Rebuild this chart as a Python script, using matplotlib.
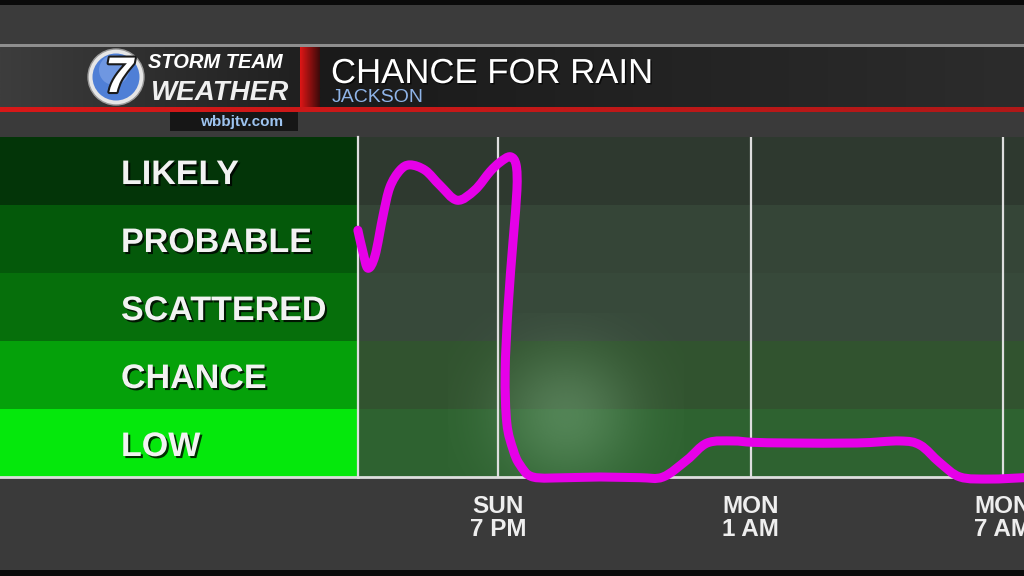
import numpy as np
import matplotlib
matplotlib.use('Agg')
import matplotlib.pyplot as plt
from matplotlib.patches import Rectangle, Circle, PathPatch
from matplotlib.path import Path
from matplotlib.colors import to_rgb
import matplotlib.patheffects as pe

# ---------------- data ----------------
categories = ['LOW', 'CHANCE', 'SCATTERED', 'PROBABLE', 'LIKELY']
# hours relative to Sunday 7 PM, rain-chance level (0 = bottom of LOW, 5 = top of LIKELY)
hours = [-3.33, -3.21, -3.09, -2.92, -2.73, -2.57, -2.33, -2.09, -1.73, -1.38,
         -0.97, -0.55, -0.19, 0.05, 0.29, 0.43, 0.45, 0.36, 0.24, 0.17,
         0.21, 0.36, 0.52, 0.83, 1.64, 2.42, 3.37, 3.92, 4.49, 4.97,
         5.58, 6.06, 6.94, 8.53, 9.55, 10.03, 10.50, 10.98, 11.69, 12.50]
levels = [3.63, 3.31, 3.07, 3.26, 3.85, 4.26, 4.51, 4.59, 4.51, 4.29,
          4.07, 4.22, 4.49, 4.63, 4.71, 4.59, 4.22, 3.49, 2.50, 1.53,
          0.79, 0.40, 0.18, 0.00, -0.01, 0.00, -0.01, 0.00, 0.25, 0.50,
          0.53, 0.51, 0.50, 0.50, 0.53, 0.47, 0.21, 0.00, -0.03, -0.01]
tick_hours = [0, 6, 12]
tick_labels = ['SUN\n7 PM', 'MON\n1 AM', 'MON\n7 AM']
title = 'CHANCE FOR RAIN'
subtitle = 'JACKSON'
station = 'wbbjtv.com'

# ---------------- styles ----------------
panel_colors = ['#05e80c', '#05a10a', '#066f0b', '#04590a', '#033508']
plot_colors = ['#2e6230', '#31532f', '#37493a', '#354537', '#2e392f']
LINE_C = '#e600e8'
FONT = 'Liberation Sans'

W, H = 1024, 576
fig = plt.figure(figsize=(10.24, 5.76), dpi=100)
fig.patch.set_facecolor('#3a3a3a')

bg = fig.add_axes([0, 0, 1, 1], zorder=0)
bg.set_xlim(0, W)
bg.set_ylim(H, 0)
bg.axis('off')


def rect(x0, y0, x1, y1, color, z=1):
    bg.add_patch(Rectangle((x0, y0), x1 - x0, y1 - y0, facecolor=color,
                           edgecolor='none', lw=0, zorder=z))


def hgrad(x0, y0, x1, y1, c0, c1, z=1):
    t = np.linspace(0, 1, 256)[None, :, None]
    a = np.array(to_rgb(c0))[None, None, :]
    b = np.array(to_rgb(c1))[None, None, :]
    img = a * (1 - t) + b * t
    bg.imshow(img, extent=(x0, x1, y1, y0), aspect='auto', zorder=z,
              interpolation='bilinear')


# background strips
rect(0, 0, W, 5, '#0a0a0a')
rect(0, 5, W, 44, '#3b3b3b')
rect(0, 44, W, 47, '#8e8e8e', z=2)
# header band
hgrad(0, 47, 300, 108, '#3d3d3d', '#202020')
hgrad(300, 47, 320, 108, '#e01616', '#3a0a0a', z=2)
hgrad(320, 47, W, 108, '#1a1a1a', '#2c2c2c')
hgrad(0, 107, W, 112, '#d81818', '#b01818', z=3)
rect(0, 112, W, 137, '#3a3a3a')
# url box
rect(170, 112, 298, 131, '#161616', z=3)
# bottom
rect(0, 477, W, 570, '#3a3a3a')
rect(0, 570, W, H, '#0a0a0a')

# logo
bg.add_patch(Circle((116, 77), 28, facecolor='#e6e6e6', edgecolor='#9a9a9a', lw=1, zorder=4))
bg.add_patch(Circle((116, 77), 23.5, facecolor='#4f7fd6', edgecolor='none', zorder=5))
bg.add_patch(Circle((114, 70), 15, facecolor='#86a8ea', edgecolor='none', alpha=0.6, zorder=5))
bg.text(119, 79, '7', fontsize=36, fontweight='bold', fontstyle='italic', family=FONT,
        color='white', ha='center', va='center', zorder=6,
        path_effects=[pe.withStroke(linewidth=3, foreground='#1a1a1a')])
bg.text(148, 68, 'STORM TEAM', fontsize=14.5, fontweight='bold', fontstyle='italic',
        family=FONT, color='white', ha='left', va='baseline', zorder=6)
bg.text(151, 100, 'WEATHER', fontsize=20, fontweight='bold', fontstyle='italic',
        family=FONT, color='#f0f0f0', ha='left', va='baseline', zorder=6)
bg.text(242, 126, station, fontsize=11, fontweight='bold', family=FONT,
        color='#9dc3ef', ha='center', va='baseline', zorder=6)

# titles
bg.text(331, 83, title, fontsize=25, family=FONT, color='white', ha='left',
        va='baseline', zorder=6,
        path_effects=[pe.withSimplePatchShadow(offset=(1, -1), shadow_rgbFace='black', alpha=0.7)])
bg.text(332, 102, subtitle, fontsize=14, family=FONT, color='#8fb4e8', ha='left',
        va='baseline', zorder=6)

# ---------------- plot area ----------------
y_top, y_bot = 137, 477
x_left = 358
px_per_hour = (1003 - 498) / 12.0
x0 = (x_left - 498) / px_per_hour
x1 = (W - 498) / px_per_hour

ax_rect = [x_left / W, (H - y_bot) / H, (W - x_left) / W, (y_bot - y_top) / H]
ax = fig.add_axes(ax_rect, zorder=2)
ax.set_facecolor('none')

for i, c in enumerate(plot_colors):
    ax.axhspan(i, i + 1, color=c, lw=0, zorder=0)

# soft light glow in the plot background
gy, gx = np.mgrid[0:1:120j, 0:1:200j]
glow = np.exp(-(((gx - 0.5) / 0.3) ** 2 + ((gy - 0.5) / 0.33) ** 2))
img = np.zeros((120, 200, 4))
img[..., :3] = to_rgb('#7fae84')
img[..., 3] = 0.45 * glow
ax.imshow(img, extent=(-1.2, 4.4, -0.6, 2.4), aspect='auto', zorder=0.5,
          origin='lower', interpolation='bilinear')
ax.set_xlim(x0, x1)
ax.set_ylim(0, len(categories))

for h in tick_hours:
    ax.axvline(h, color='#dedede', lw=1.6, zorder=1)

for s in ['top', 'right']:
    ax.spines[s].set_visible(False)
ax.spines['left'].set_color('#dedede')
ax.spines['left'].set_linewidth(1.6)
ax.spines['bottom'].set_color('#dedede')
ax.spines['bottom'].set_linewidth(2)
ax.set_yticks([])
ax.set_xticks(tick_hours, tick_labels)
ax.tick_params(axis='x', length=0, pad=13, labelsize=17.5, labelcolor='#eeeeee')
for lab in ax.get_xticklabels():
    lab.set_fontweight('bold')
    lab.set_family(FONT)
    lab.set_linespacing(0.98)

# smooth curve through the data points (Catmull-Rom drawn as cubic Bezier)
P = np.column_stack([hours, levels])
ext = np.vstack([P[0], P, P[-1]])
verts = [tuple(P[0])]
codes = [Path.MOVETO]
for i in range(len(P) - 1):
    p0, p1, p2, p3 = ext[i], ext[i + 1], ext[i + 2], ext[i + 3]
    c1 = p1 + (p2 - p0) / 6.0
    c2 = p2 - (p3 - p1) / 6.0
    verts += [tuple(c1), tuple(c2), tuple(p2)]
    codes += [Path.CURVE4] * 3
curve = PathPatch(Path(verts, codes), facecolor='none', edgecolor=LINE_C, lw=6.5,
                  capstyle='round', joinstyle='round', zorder=5, clip_on=False,
                  transform=ax.transData)
ax.add_patch(curve)

# ---------------- category panel ----------------
lax = fig.add_axes([0, (H - y_bot) / H, x_left / W, (y_bot - y_top) / H], zorder=1)
lax.set_xlim(0, x_left)
lax.set_ylim(0, len(categories))
lax.axis('off')
for i, (cat, c) in enumerate(zip(categories, panel_colors)):
    lax.axhspan(i, i + 1, color=c, lw=0)
    lax.text(121, i + 0.5 - 13 / 68.0, cat, fontsize=24.5, fontweight='bold', family=FONT,
             color='#f2f2f2', ha='left', va='baseline',
             path_effects=[pe.withSimplePatchShadow(offset=(1.5, -1.5),
                                                    shadow_rgbFace='black', alpha=0.8)])
lax.axhline(0, color='#dedede', lw=2, clip_on=False)

fig.savefig('out.png', dpi=100, facecolor=fig.get_facecolor())
